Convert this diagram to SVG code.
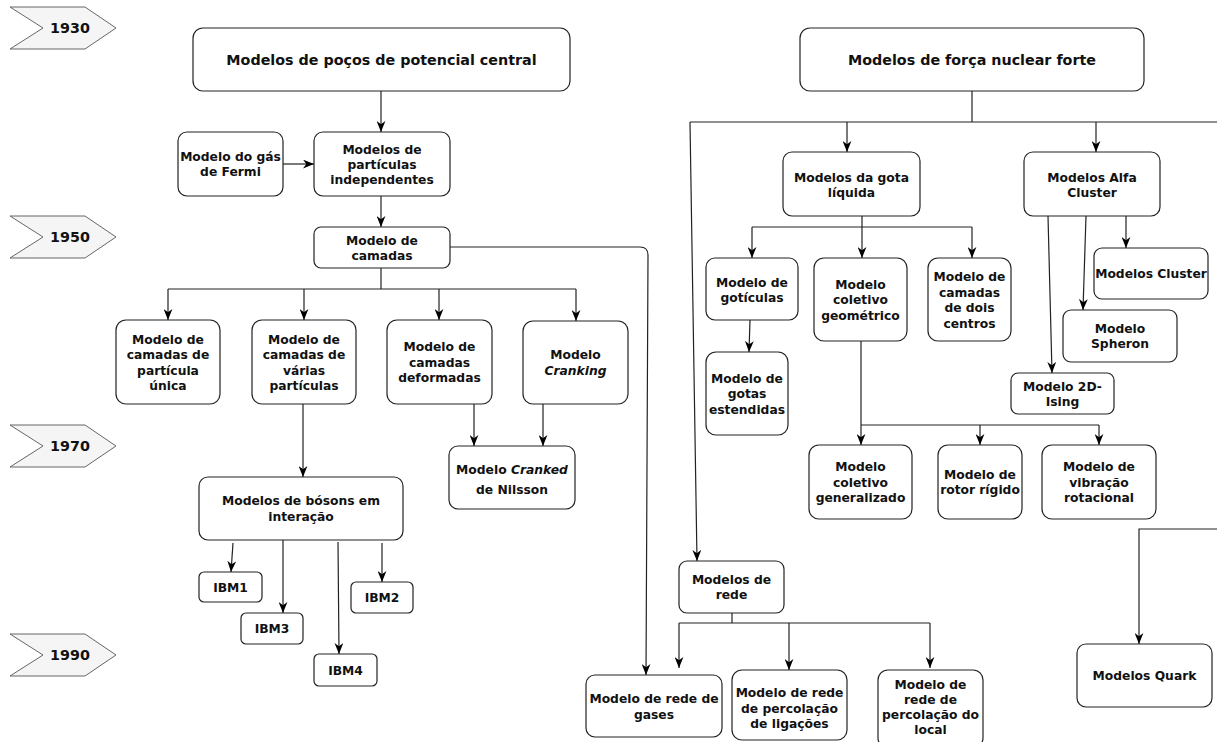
<svg xmlns="http://www.w3.org/2000/svg" width="1217" height="742" viewBox="0 0 1217 742">
<style>
.n rect{fill:#fff;stroke:#222;stroke-width:1.2}
.yr polygon{fill:#f5f5f5;stroke:#666;stroke-width:1}
text{font-family:"DejaVu Sans",Verdana,sans-serif;font-weight:bold;font-size:12.3px;fill:#111;text-anchor:middle}
.big{font-size:14.3px}
.it{font-style:italic}
.c path,.c line{fill:none;stroke:#222;stroke-width:1.2}
</style>
<defs>
<marker id="a" viewBox="0 0 10 8" markerWidth="11" markerHeight="9" refX="10" refY="4" orient="auto" markerUnits="userSpaceOnUse">
<path d="M0,0 L10,4 L0,8 L3,4 z" fill="#000"/>
</marker>
</defs>

<g id="y1930" class="yr"><polygon points="10,7 85,7 116,28 85,49 10,49 43,28"/><text class="big" x="70" y="33">1930</text></g>
<g id="y1950" class="yr"><polygon points="10,216 85,216 116,237 85,258 10,258 43,237"/><text class="big" x="70" y="242">1950</text></g>
<g id="y1970" class="yr"><polygon points="10,425 85,425 116,446 85,467 10,467 43,446"/><text class="big" x="70" y="451">1970</text></g>
<g id="y1990" class="yr"><polygon points="10,634 85,634 116,655 85,676 10,676 43,655"/><text class="big" x="70" y="660">1990</text></g>

<g class="c" id="connectors">
<path d="M381,91 V132" marker-end="url(#a)"/>
<path d="M283,164 H314" marker-end="url(#a)"/>
<path d="M381,196 V227" marker-end="url(#a)"/>
<path d="M381,268 V289"/>
<path d="M168,289 H576"/>
<path d="M168,289 V320" marker-end="url(#a)"/>
<path d="M304,289 V320" marker-end="url(#a)"/>
<path d="M439,289 V320" marker-end="url(#a)"/>
<path d="M576,289 V321" marker-end="url(#a)"/>
<path d="M450,247 H640 Q648,247 648,255 L646,675" marker-end="url(#a)"/>
<path d="M474,404 V446" marker-end="url(#a)"/>
<path d="M543,404 V446" marker-end="url(#a)"/>
<path d="M303,404 V477" marker-end="url(#a)"/>
<path d="M233,543 L231,572" marker-end="url(#a)"/>
<path d="M283,540 V613" marker-end="url(#a)"/>
<path d="M338,542 L339,654" marker-end="url(#a)"/>
<path d="M382,543 V582" marker-end="url(#a)"/>
<path d="M972,91 V122"/>
<path d="M690,122 H1217"/>
<path d="M847,122 V152" marker-end="url(#a)"/>
<path d="M1096,122 V152" marker-end="url(#a)"/>
<path d="M690,122 L697,561" marker-end="url(#a)"/>
<path d="M862,216 V227"/>
<path d="M752,227 H972"/>
<path d="M752,227 V258" marker-end="url(#a)"/>
<path d="M862,227 V258" marker-end="url(#a)"/>
<path d="M972,227 V258" marker-end="url(#a)"/>
<path d="M750,320 L749,352" marker-end="url(#a)"/>
<path d="M861,341 V445" marker-end="url(#a)"/>
<path d="M861,425 H1099"/>
<path d="M980,425 V445" marker-end="url(#a)"/>
<path d="M1099,425 V445" marker-end="url(#a)"/>
<path d="M1126,216 V248" marker-end="url(#a)"/>
<path d="M1086,216 L1083,310" marker-end="url(#a)"/>
<path d="M1048,216 L1052,373" marker-end="url(#a)"/>
<path d="M732,613 V623"/>
<path d="M679,623 H930"/>
<path d="M679,623 V668" marker-end="url(#a)"/>
<path d="M789,623 V670" marker-end="url(#a)"/>
<path d="M930,623 V668" marker-end="url(#a)"/>
<path d="M1217,529 H1139 V644" marker-end="url(#a)"/>
</g>

<g id="n_pocos" class="n"><rect x="193" y="28" width="377" height="63" rx="10"/><text class="big" x="381.5" y="65">Modelos de poços de potencial central</text></g>
<g id="n_forca" class="n"><rect x="800" y="28" width="344" height="63" rx="10"/><text class="big" x="972" y="65">Modelos de força nuclear forte</text></g>
<g id="n_fermi" class="n"><rect x="178" y="132" width="105" height="64" rx="9"/><text x="230.5" y="161">Modelo do gás</text><text x="230.5" y="176">de Fermi</text></g>
<g id="n_indep" class="n"><rect x="314" y="132" width="136" height="64" rx="9"/><text x="382" y="153.5">Modelos de</text><text x="382" y="168.5">partículas</text><text x="382" y="183.5">independentes</text></g>
<g id="n_camadas" class="n"><rect x="314" y="227" width="136" height="41" rx="7"/><text x="382" y="245">Modelo de</text><text x="382" y="260">camadas</text></g>
<g id="n_unica" class="n"><rect x="116" y="320" width="104" height="84" rx="10"/><text x="168" y="343.5">Modelo de</text><text x="168" y="359">camadas de</text><text x="168" y="374.5">partícula</text><text x="168" y="390">única</text></g>
<g id="n_varias" class="n"><rect x="252" y="320" width="104" height="84" rx="10"/><text x="304" y="343.5">Modelo de</text><text x="304" y="359">camadas de</text><text x="304" y="374.5">várias</text><text x="304" y="390">partículas</text></g>
<g id="n_deform" class="n"><rect x="387" y="320" width="105" height="84" rx="10"/><text x="439.5" y="351">Modelo de</text><text x="439.5" y="366.5">camadas</text><text x="439.5" y="382">deformadas</text></g>
<g id="n_cranking" class="n"><rect x="523" y="321" width="105" height="83" rx="10"/><text x="575.5" y="358.5">Modelo</text><text class="it" x="575.5" y="375">Cranking</text></g>
<g id="n_nilsson" class="n"><rect x="449" y="446" width="126" height="63" rx="9"/><text x="512" y="473.5">Modelo <tspan class="it">Cranked</tspan></text><text x="512" y="493.5">de Nilsson</text></g>
<g id="n_bosons" class="n"><rect x="199" y="477" width="204" height="63" rx="9"/><text x="301" y="505">Modelos de bósons em</text><text x="301" y="521">interação</text></g>
<g id="n_ibm1" class="n"><rect x="199" y="572" width="63" height="30" rx="5"/><text x="230.5" y="591.5">IBM1</text></g>
<g id="n_ibm2" class="n"><rect x="351" y="582" width="62" height="31" rx="5"/><text x="382" y="602">IBM2</text></g>
<g id="n_ibm3" class="n"><rect x="241" y="613" width="62" height="31" rx="5"/><text x="272" y="633">IBM3</text></g>
<g id="n_ibm4" class="n"><rect x="314" y="654" width="63" height="32" rx="5"/><text x="345.5" y="674.5">IBM4</text></g>
<g id="n_gota" class="n"><rect x="783" y="152" width="137" height="64" rx="9"/><text x="851.5" y="181.5">Modelos da gota</text><text x="851.5" y="197">líquida</text></g>
<g id="n_alfa" class="n"><rect x="1024" y="152" width="136" height="64" rx="9"/><text x="1092" y="181.5">Modelos Alfa</text><text x="1092" y="197">Cluster</text></g>
<g id="n_goticulas" class="n"><rect x="706" y="258" width="92" height="62" rx="9"/><text x="752" y="286.5">Modelo de</text><text x="752" y="302">gotículas</text></g>
<g id="n_geom" class="n"><rect x="814" y="258" width="93" height="83" rx="10"/><text x="860.5" y="288.5">Modelo</text><text x="860.5" y="304">coletivo</text><text x="860.5" y="319.5">geométrico</text></g>
<g id="n_dois" class="n"><rect x="928" y="258" width="83" height="83" rx="10"/><text x="969.5" y="281">Modelo de</text><text x="969.5" y="296.5">camadas</text><text x="969.5" y="312">de dois</text><text x="969.5" y="327.5">centros</text></g>
<g id="n_estend" class="n"><rect x="706" y="352" width="82" height="83" rx="10"/><text x="747" y="382.5">Modelo de</text><text x="747" y="398">gotas</text><text x="747" y="413.5">estendidas</text></g>
<g id="n_cluster" class="n"><rect x="1094" y="248" width="114" height="51" rx="8"/><text x="1151" y="278">Modelos Cluster</text></g>
<g id="n_spheron" class="n"><rect x="1063" y="310" width="114" height="52" rx="8"/><text x="1120" y="332.5">Modelo</text><text x="1120" y="348">Spheron</text></g>
<g id="n_ising" class="n"><rect x="1011" y="373" width="103" height="41" rx="7"/><text x="1062.5" y="390.5">Modelo 2D-</text><text x="1062.5" y="406">Ising</text></g>
<g id="n_general" class="n"><rect x="809" y="445" width="103" height="74" rx="10"/><text x="860.5" y="471">Modelo</text><text x="860.5" y="486.5">coletivo</text><text x="860.5" y="502">generalizado</text></g>
<g id="n_rotor" class="n"><rect x="938" y="445" width="84" height="74" rx="10"/><text x="980" y="478.5">Modelo de</text><text x="980" y="494">rotor rígido</text></g>
<g id="n_vibr" class="n"><rect x="1042" y="445" width="114" height="74" rx="10"/><text x="1099" y="471">Modelo de</text><text x="1099" y="486.5">vibração</text><text x="1099" y="502">rotacional</text></g>
<g id="n_rede" class="n"><rect x="679" y="561" width="105" height="52" rx="8"/><text x="731.5" y="583.5">Modelos de</text><text x="731.5" y="599">rede</text></g>
<g id="n_gases" class="n"><rect x="586" y="675" width="136" height="62" rx="9"/><text x="654" y="703">Modelo de rede de</text><text x="654" y="718.5">gases</text></g>
<g id="n_lig" class="n"><rect x="732" y="670" width="115" height="70" rx="10"/><text x="789.5" y="697">Modelo de rede</text><text x="789.5" y="712.5">de percolação</text><text x="789.5" y="728">de ligações</text></g>
<g id="n_local" class="n"><rect x="878" y="670" width="105" height="78" rx="10"/><text x="930.5" y="689">Modelo de</text><text x="930.5" y="704">rede de</text><text x="930.5" y="719">percolação do</text><text x="930.5" y="734">local</text></g>
<g id="n_quark" class="n"><rect x="1077" y="644" width="135" height="63" rx="9"/><text x="1144.5" y="680">Modelos Quark</text></g>
</svg>
